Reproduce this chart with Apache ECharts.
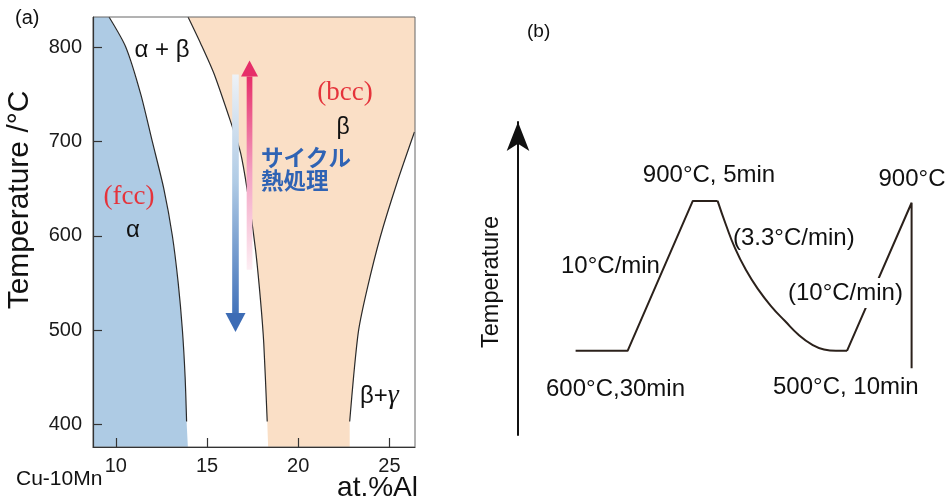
<!DOCTYPE html>
<html><head><meta charset="utf-8">
<script src="https://cdn.jsdelivr.net/npm/echarts@6/dist/echarts.min.js"></script>
<style>html,body{margin:0;padding:0;background:#fff}#c{width:949px;height:502px}</style>
</head><body><div id="c"></div>
<script>
// ---------- Panel (a): Cu-10Mn-Al phase diagram ----------
const xTicks = [10, 15, 20, 25];
const yTicks = [400, 500, 600, 700, 800];
// alpha / (alpha+beta) boundary
const alphaBoundaryAl = [9.63, 10.55, 11.37, 12.0, 12.63, 13.10, 13.42, 13.65, 13.80, 13.88];
const alphaBoundaryT  = [832, 800, 750, 700, 650, 600, 550, 500, 450, 403];
// (alpha+beta) / beta boundary
const betaLeftAl = [13.96, 14.65, 15.38, 16.38, 16.84, 17.20, 17.66, 17.93, 18.11, 18.30];
const betaLeftT  = [832, 804, 772, 716, 688, 649, 585, 532, 486, 403];
// beta / (beta+gamma) boundary
const betaRightAl = [26.37, 25.41, 24.50, 23.77, 23.31, 23.04, 22.82];
const betaRightT  = [710, 656, 599, 543, 500, 452, 403];
// region edges below 400 C
const alphaBaseAl = 13.95;
const betaBaseAl = [18.35, 22.82];
// cycle heat-treatment arrows [Al, tail T, tip T]
const coolArrow = [16.56, 771, 498];
const heatArrow = [17.33, 564, 786];

// ---------- Panel (b): thermal cycle schematic (arbitrary units) ----------
const rampTime  = [14.4, 27.4, 43.7, 49.9];
const rampLevel = [26.9, 26.9, 74.8, 74.8];
const coolTime  = [49.9, 52.0, 54.25, 57.0, 60.0, 63.25, 66.75, 70.25, 73.5, 76.5, 79.5, 82.25];
const coolLevel = [74.8, 67.1, 59.7, 52.7, 46.6, 41.2, 36.4, 31.9, 28.9, 27.3, 26.9, 26.9];
const reheatTime  = [82.25, 98.4, 98.4];
const reheatLevel = [26.9, 74.2, 21.3];

const SANS = '"Liberation Sans", Arial, sans-serif';
const SERIF = '"Liberation Serif", "Times New Roman", serif';
const CJK = '"Noto Sans CJK JP", sans-serif';
const X_MIN = 8.75, X_MAX = 26.4, T_MIN = 376, T_MAX = 832;

const zip = (a, b) => a.map((v, i) => [v, b[i]]);

const alphaPoly = [[X_MIN, T_MAX]].concat(zip(alphaBoundaryAl, alphaBoundaryT), [[alphaBaseAl, T_MIN], [X_MIN, T_MIN]]);
const betaPoly = zip(betaLeftAl, betaLeftT).concat(
  [[betaBaseAl[0], T_MIN], [betaBaseAl[1], T_MIN]],
  zip(betaRightAl, betaRightT).reverse(),
  [[X_MAX, betaRightT[0]], [X_MAX, T_MAX]]);

function fillSeries(poly, color) {
  return {
    type: 'custom', xAxisIndex: 0, yAxisIndex: 0, z: 1, silent: true,
    data: [[X_MIN, T_MIN]],
    renderItem(params, api) {
      return { type: 'polygon', shape: { points: poly.map(p => api.coord(p)) }, style: { fill: color } };
    }
  };
}
function boundarySeries(xs, ys) {
  return {
    type: 'line', xAxisIndex: 0, yAxisIndex: 0, z: 3, silent: true, smooth: 0.25,
    showSymbol: false, symbol: 'none', data: zip(xs, ys),
    lineStyle: { color: '#2a2a2a', width: 1.2 }
  };
}
function arrowSeries(arr, shaftW, headW, headL, stops, headColor) {
  return {
    type: 'custom', xAxisIndex: 0, yAxisIndex: 0, z: 4, silent: true,
    data: [[arr[0], arr[1]]],
    renderItem(params, api) {
      const tail = api.coord([arr[0], arr[1]]);
      const tip = api.coord([arr[0], arr[2]]);
      const dir = tip[1] > tail[1] ? 1 : -1;
      const baseY = tip[1] - dir * headL;
      const x = tail[0];
      const y0 = Math.min(tail[1], baseY), y1 = Math.max(tail[1], baseY);
      return {
        type: 'group', children: [
          { type: 'rect', shape: { x: x - shaftW / 2, y: y0, width: shaftW, height: y1 - y0 },
            style: { fill: new echarts.graphic.LinearGradient(0, 0, 0, 1, stops) } },
          { type: 'polygon', shape: { points: [[x - headW / 2, baseY], [x + headW / 2, baseY], [x, tip[1]]] },
            style: { fill: headColor } }
        ]
      };
    }
  };
}
function profileSeries(xs, ys, smooth) {
  return {
    type: 'line', xAxisIndex: 1, yAxisIndex: 1, silent: true, smooth: smooth,
    showSymbol: false, symbol: 'none', data: zip(xs, ys),
    lineStyle: { color: '#2b211b', width: 2 }
  };
}
function txt(text, x, y, style, extra) {
  return Object.assign({
    type: 'text', x: x, y: y, z: 100, silent: true,
    style: Object.assign({ text: text, fill: '#111', fontFamily: SANS, fontSize: 22, align: 'left', verticalAlign: 'middle' }, style || {})
  }, extra || {});
}

const chart = echarts.init(document.getElementById('c'), null, { renderer: 'canvas' });
chart.setOption({
  animation: false,
  backgroundColor: '#fff',
  grid: [
    { left: 93, top: 17, width: 322, height: 430, show: true, borderColor: '#666', borderWidth: 1, backgroundColor: 'transparent', z: 10 },
    { left: 518, top: 122, width: 400, height: 313, show: false }
  ],
  xAxis: [
    { type: 'value', gridIndex: 0, min: X_MIN, max: X_MAX, z: 10,
      axisLine: { show: true, lineStyle: { color: '#333', width: 1.2 } },
      axisTick: { show: true, inside: true, length: 9, customValues: xTicks, lineStyle: { color: '#333', width: 1.2 } },
      axisLabel: { show: true, customValues: xTicks, margin: 9, color: '#1a1a1a', fontSize: 20, fontFamily: SANS },
      splitLine: { show: false } },
    { type: 'value', gridIndex: 1, min: 0, max: 100, show: false }
  ],
  yAxis: [
    { type: 'value', gridIndex: 0, min: T_MIN, max: T_MAX, z: 10,
      axisLine: { show: true, lineStyle: { color: '#333', width: 1.2 } },
      axisTick: { show: true, inside: true, length: 9, customValues: yTicks, lineStyle: { color: '#333', width: 1.2 } },
      axisLabel: { show: true, customValues: yTicks, margin: 11, color: '#1a1a1a', fontSize: 20, fontFamily: SANS },
      splitLine: { show: false } },
    { type: 'value', gridIndex: 1, min: 0, max: 100,
      axisLine: { show: true, symbol: ['none', 'arrow'], symbolSize: [17, 29], lineStyle: { color: '#111', width: 2 } },
      axisTick: { show: false }, axisLabel: { show: false }, splitLine: { show: false } }
  ],
  series: [
    fillSeries(alphaPoly, '#aecbe4'),
    fillSeries(betaPoly, '#fadfc6'),
    boundarySeries(alphaBoundaryAl, alphaBoundaryT),
    boundarySeries(betaLeftAl, betaLeftT),
    boundarySeries(betaRightAl, betaRightT),
    arrowSeries(coolArrow, 6.6, 20, 19,
      [{ offset: 0, color: '#eef2f7' }, { offset: 0.45, color: '#b0cbe5' }, { offset: 1, color: '#4373ba' }], '#3d6cb5'),
    arrowSeries(heatArrow, 5.7, 17, 16,
      [{ offset: 0, color: '#e62e69' }, { offset: 0.5, color: '#f3a2c3' }, { offset: 1, color: '#fdeef3' }], '#e62e69'),
    profileSeries(rampTime, rampLevel, false),
    profileSeries(coolTime, coolLevel, 0.5),
    profileSeries(reheatTime, reheatLevel, false)
  ],
  graphic: [
    // panel (a)
    txt('(a)', 15, 18, { fontSize: 20 }),
    txt('α + β', 162, 50, { align: 'center', fontSize: 24 }),
    txt('(fcc)', 129, 197, { align: 'center', fontSize: 27, fontFamily: SERIF, fill: '#e5333b' }),
    txt('α', 133, 230, { align: 'center', fontSize: 24 }),
    txt('(bcc)', 345, 93, { align: 'center', fontSize: 27, fontFamily: SERIF, fill: '#e5333b' }),
    txt('β', 343, 128, { align: 'center', fontSize: 23 }),
    txt('サイクル', 261, 157, { fontSize: 22.5, fontWeight: 'bold', fontFamily: CJK, fill: '#2f63b4' }),
    txt('熱処理', 261, 180, { fontSize: 22.5, fontWeight: 'bold', fontFamily: CJK, fill: '#2f63b4' }),
    txt('{a|β+}{b|γ}', 360, 396, {
      rich: { a: { fontSize: 24, fontFamily: SANS, fill: '#111' }, b: { fontSize: 28, fontFamily: SERIF, fontStyle: 'italic', fill: '#111' } }
    }),
    txt('Cu-10Mn', 16, 479, { fontSize: 21 }),
    txt('at.%Al', 418, 488, { align: 'right', fontSize: 28 }),
    txt('Temperature /°C', 20, 200, { align: 'center', fontSize: 30 }, { rotation: Math.PI / 2 }),
    // panel (b)
    txt('(b)', 527, 32, { fontSize: 19 }),
    txt('Temperature', 492, 282, { align: 'center', fontSize: 23.5 }, { rotation: Math.PI / 2 }),
    txt('900°C, 5min', 709, 175, { align: 'center', fontSize: 24 }),
    txt('900°C', 912, 179, { align: 'center', fontSize: 24 }),
    txt('(3.3°C/min)', 733, 238, { fontSize: 24 }),
    txt('10°C/min', 561, 266, { fontSize: 24 }),
    txt('(10°C/min)', 788, 293, { fontSize: 24, backgroundColor: '#fff', padding: [3, 0, 3, 0] }),
    txt('600°C,30min', 546, 389, { fontSize: 24 }),
    txt('500°C, 10min', 773, 387, { fontSize: 24 })
  ]
});
</script>
</body></html>
